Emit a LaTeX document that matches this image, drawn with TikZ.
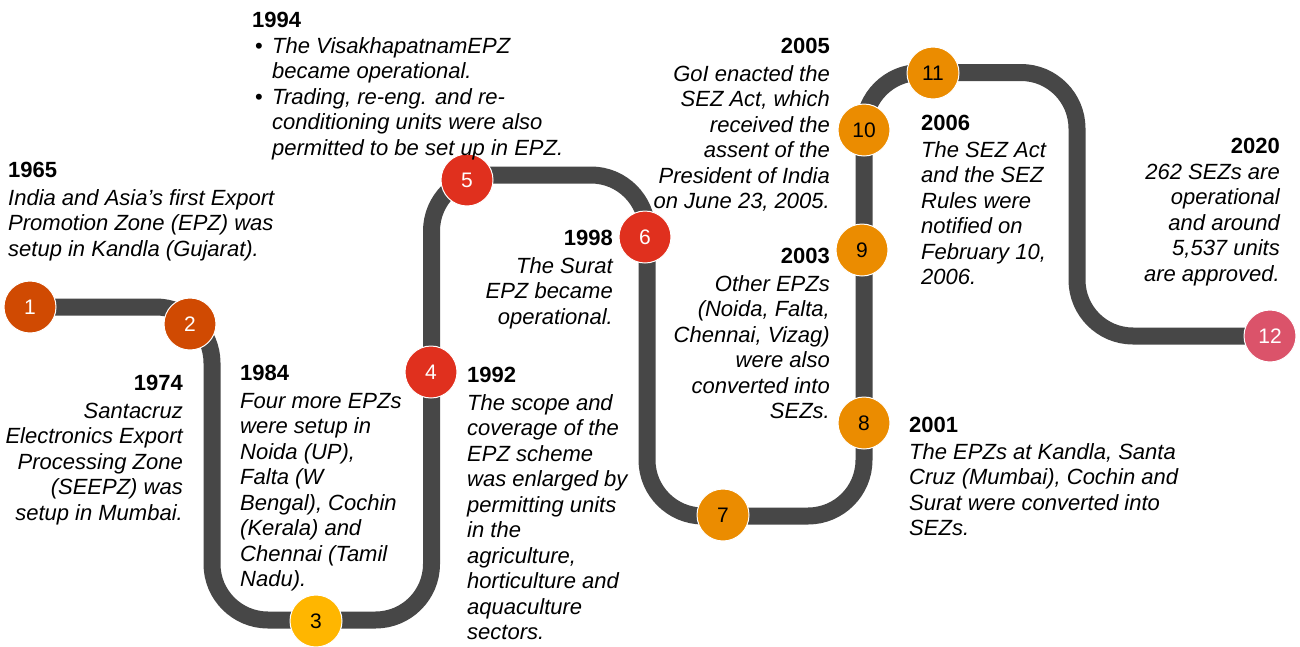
\documentclass[tikz,border=0pt]{standalone}
\usepackage{fontspec}
\setmainfont{Liberation Sans}
\definecolor{track}{HTML}{474747}
\definecolor{cDarkOr}{HTML}{D04A02}
\definecolor{cYel}{HTML}{FFB600}
\definecolor{cRed}{HTML}{E0301E}
\definecolor{cOr}{HTML}{EB8C00}
\definecolor{cRose}{HTML}{DB536A}
\begin{document}
\begin{tikzpicture}[x=1pt,y=-1pt,
  dot/.style={circle,minimum size=52pt,inner sep=0pt,draw=white,line width=1pt,
    font=\fontsize{21}{24}\selectfont},
  wdot/.style={dot,text=white},
  bdot/.style={dot,text=black},
  yr/.style={inner sep=0pt,font=\fontsize{22}{25.5}\selectfont\bfseries},
  body/.style={inner sep=0pt,font=\fontsize{22}{25.5}\selectfont\itshape},
  road/.style={draw=track,line width=17pt,rounded corners=56pt},
]
\useasboundingbox (0,0) rectangle (1300,646);
% corner points of the road
\coordinate (k1) at (212,307);
\coordinate (k2) at (212,620);
\coordinate (k3) at (431.5,620);
\coordinate (k4) at (431.5,175);
\coordinate (k5) at (647,175);
\coordinate (k6) at (647,516);
\coordinate (k7) at (864,516);
\coordinate (k8) at (864,72.5);
\coordinate (k9) at (1077,72.5);
\coordinate (k10) at (1077,336);
\coordinate (s) at (30,307);
\coordinate (e) at (1270,336);
\draw[road] (s) -- (k1) -- (k2) -- (k3) -- (k4) -- (k5) -- (k6) -- (k7) -- (k8) -- (k9) -- (k10) -- (e);
% milestones
\node[wdot,fill=cDarkOr] (n1) at (s) {1};
\node[wdot,fill=cDarkOr] (n2) at (190,324) {2};
\node[bdot,fill=cYel] (n3) at (316,621) {3};
\node[wdot,fill=cRed] (n4) at (431,372) {4};
\node[wdot,fill=cRed] (n5) at (467,180) {5};
\node[wdot,fill=cRed] (n6) at (645,237) {6};
\node[bdot,fill=cOr] (n7) at (723,515) {7};
\node[bdot,fill=cOr] (n8) at (864,423) {8};
\node[bdot,fill=cOr] (n9) at (862,250) {9};
\node[bdot,fill=cOr] (n10) at (864,130) {10};
\node[bdot,fill=cOr] (n11) at (933,73) {11};
\node[wdot,fill=cRose] (n12) at (e) {12};
% texts (body nodes are placed by the baseline of their last line)
\node[yr,anchor=base west] (h1965) at (8,177) {1965};
\node[body,align=left,anchor=base west] (t1965) at (8,256) {India and Asia’s first Export\\Promotion Zone (EPZ) was\\setup in Kandla (Gujarat).};
\node[yr,anchor=base east] (h1974) at (183,390) {1974};
\node[body,align=right,anchor=base east] (t1974) at (183,520) {Santacruz\\Electronics Export\\Processing Zone\\(SEEPZ) was\\setup in Mumbai.};
\node[yr,anchor=base west] (h1984) at (240,380) {1984};
\node[body,align=left,anchor=base west] (t1984) at (240,586.5) {Four more EPZs\\were setup in\\Noida (UP),\\Falta (W\\Bengal), Cochin\\(Kerala) and\\Chennai (Tamil\\Nadu).};
\node[yr,anchor=base west] (h1992) at (467,382) {1992};
\node[body,align=left,anchor=base west] (t1992) at (467,639.5) {The scope and\\coverage of the\\EPZ scheme\\was enlarged by\\permitting units\\in the\\agriculture,\\horticulture and\\aquaculture\\sectors.};
\node[yr,anchor=base west] (h1994) at (252,27) {1994};
\node[body,font=\fontsize{22}{25.5}\selectfont,anchor=base west] (b1) at (255,53) {•};
\node[body,align=left,anchor=base west] (t1994a) at (272,78.5) {The VisakhapatnamEPZ\\became operational.};
\node[body,font=\fontsize{22}{25.5}\selectfont,anchor=base west] (b2) at (255,104) {•};
\node[body,align=left,anchor=base west] (t1994b) at (272,155) {Trading, re-eng. and re-\\conditioning units were also\\permitted to be set up in EPZ.};
\node[yr,anchor=base east] (h1998) at (613,245) {1998};
\node[body,align=right,anchor=base east] (t1998) at (613,324) {The Surat\\EPZ became\\operational.};
\node[yr,anchor=base east] (h2005) at (830,53) {2005};
\node[body,align=right,anchor=base east] (t2005) at (830,208.5) {GoI enacted the\\SEZ Act, which\\received the\\assent of the\\President of India\\on June 23, 2005.};
\node[yr,anchor=base east] (h2003) at (830,263) {2003};
\node[body,align=right,anchor=base east] (t2003) at (830,418.5) {Other EPZs\\(Noida, Falta,\\Chennai, Vizag)\\were also\\converted into\\SEZs.};
\node[yr,anchor=base west] (h2001) at (909,432) {2001};
\node[body,align=left,anchor=base west] (t2001) at (909,535.5) {The EPZs at Kandla, Santa\\Cruz (Mumbai), Cochin and\\Surat were converted into\\SEZs.};
\node[yr,anchor=base west] (h2006) at (921,130) {2006};
\node[body,align=left,anchor=base west] (t2006) at (921,284.5) {The SEZ Act\\and the SEZ\\Rules were\\notified on\\February 10,\\2006.};
\node[yr,anchor=base east] (h2020) at (1280,153) {2020};
\node[body,align=right,anchor=base east] (t2020) at (1280,281) {262 SEZs are\\operational\\and around\\5,537 units\\are approved.};
\end{tikzpicture}
\end{document}
